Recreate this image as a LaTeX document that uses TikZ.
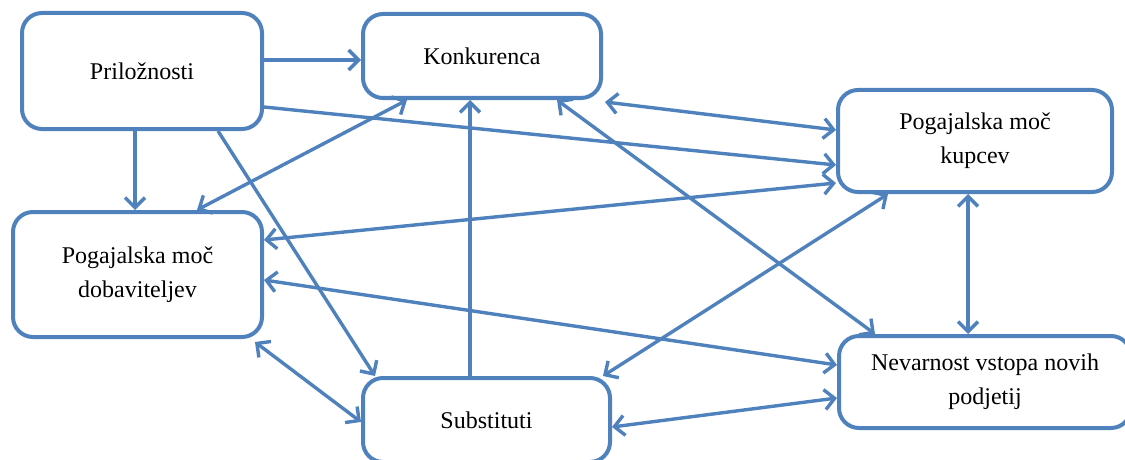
\documentclass[tikz,border=0pt]{standalone}
\usepackage{fontspec}
\setmainfont{Liberation Serif}
\usepackage{tikz}
\usetikzlibrary{arrows.meta,positioning,calc}

\definecolor{boxblue}{RGB}{79,129,189}

\begin{document}
\begin{tikzpicture}[x=1pt,y=-1pt,
    box/.style={draw=boxblue,line width=4pt,rounded corners=20pt,fill=white,
      align=center,font=\fontsize{24}{34}\selectfont,inner sep=0pt},
    link/.style={draw=boxblue,line width=3.4pt},
    >={Straight Barb[length=10pt,width=20pt,line width=3.4pt]}]
      \useasboundingbox (0,0) rectangle (1125,460);

      \coordinate (P) at (142,71);
      \coordinate (K) at (482,56);
      \coordinate (U) at (975,141);
      \coordinate (D) at (137.5,274.5);
      \coordinate (S) at (486.5,420);
      \coordinate (N) at (985,382);

      \node[box,minimum width=240pt,minimum height=116pt] (prl) at (P) {Priložnosti};
      \node[box,minimum width=238pt,minimum height=84pt] (konk) at (K) {Konkurenca};
      \node[box,minimum width=274pt,minimum height=102pt] (kup) at (U) {Pogajalska moč\\kupcev};
      \node[box,minimum width=249pt,minimum height=125pt] (dob) at (D) {Pogajalska moč\\dobaviteljev};
      \node[box,minimum width=247pt,minimum height=84pt] (sub) at (S) {Substituti};
      \node[box,minimum width=292pt,minimum height=92pt] (nev) at (N) {Nevarnost vstopa novih\\podjetij};

      \draw[link,->] ([shift={(0,-11)}]prl.east) -- ([shift={(0,4)}]konk.west);
      \draw[link,->] ([shift={(-7,0)}]prl.south) -- ([shift={(-2.5,0)}]dob.north);
      \draw[link,->] ([shift={(0,36)}]prl.east) -- ([shift={(0,24)}]kup.west);
      \draw[link,<->] ([shift={(2,2)}]konk.south east) -- ([shift={(0,-11)}]kup.west);
      \draw[link,<->] ([shift={(0,42)}]kup.west) -- ([shift={(0,-34.5)}]dob.east);
      \draw[link,<->] ([shift={(-75,0)}]konk.south) -- ([shift={(59.5,0)}]dob.north);
      \draw[link,->] ([shift={(76,0)}]prl.south) -- ([shift={(-111.5,0)}]sub.north);
      \draw[link,->] ([shift={(-16.5,0)}]sub.north) -- ([shift={(-12,0)}]konk.south);
      \draw[link,<->] ([shift={(75,0)}]konk.south) -- ([shift={(-110,0)}]nev.north);
      \draw[link,<->] ([shift={(-7,0)}]kup.south) -- ([shift={(-17,0)}]nev.north);
      \draw[link,<->] ([shift={(-87,0)}]kup.south) -- ([shift={(116.5,0)}]sub.north);
      \draw[link,<->] ([shift={(0,5.5)}]dob.east) -- ([shift={(0,-17)}]nev.west);
      \draw[link,<->] ([shift={(-9,3)}]dob.south east) -- ([shift={(0,2)}]sub.west);
      \draw[link,<->] ([shift={(0,7)}]sub.east) -- ([shift={(0,16)}]nev.west);

\end{tikzpicture}
\end{document}
